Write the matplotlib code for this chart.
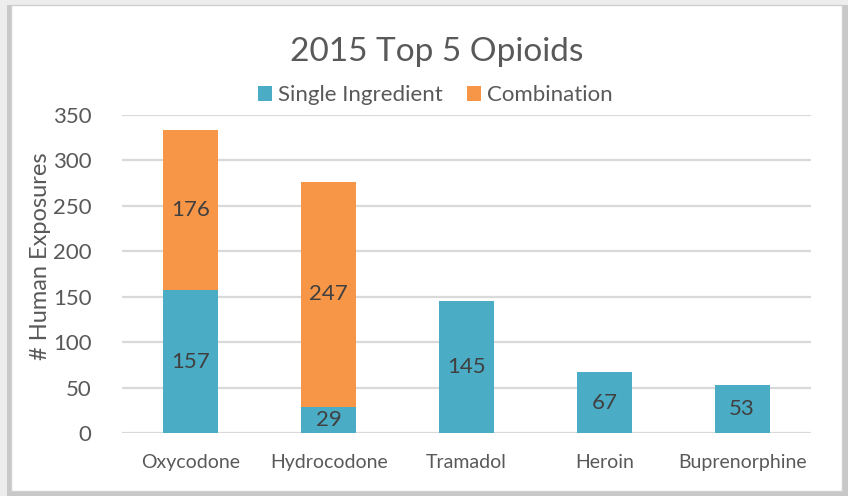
import matplotlib
matplotlib.use("Agg")
import matplotlib.pyplot as plt
from matplotlib.patches import Rectangle

categories = ["Oxycodone", "Hydrocodone", "Tramadol", "Heroin", "Buprenorphine"]
single = [157, 29, 145, 67, 53]
combination = [176, 247, 0, 0, 0]
series_names = ["Single Ingredient", "Combination"]
yticks = [0, 50, 100, 150, 200, 250, 300, 350]
title = "2015 Top 5 Opioids"
ylabel = "# Human Exposures"

FONT = ["Lato", "DejaVu Sans"]
plt.rcParams["font.family"] = FONT

TEAL = "#4BACC6"
ORANGE = "#F79646"
TXT = "#595959"
LBL = "#404040"

W, H = 848, 496
fig = plt.figure(figsize=(W / 100, H / 100), dpi=100)
fig.patch.set_facecolor("#EDEDED")

# card shadow and card
fig.patches.append(Rectangle((7 / W, 0 / H), (848 - 7) / W, (491 - 0) / H,
                             transform=fig.transFigure, facecolor="#C8C8C8",
                             edgecolor="none", zorder=0))
fig.patches.append(Rectangle((11 / W, 1 - 491 / H), (842 - 11) / W, (491 - 5) / H,
                             transform=fig.transFigure, facecolor="white",
                             edgecolor="#D0D0D0", linewidth=1, zorder=1))

ax = fig.add_axes([122 / W, 1 - 433 / H, (811 - 122) / W, (433 - 115) / H])
ax.set_facecolor("none")
ax.set_zorder(2)

x = list(range(len(categories)))
bw = 0.4
b1 = ax.bar(x, single, width=bw, color=TEAL, zorder=3, label=series_names[0])
b2 = ax.bar(x, combination, width=bw, bottom=single, color=ORANGE, zorder=3,
            label=series_names[1])

for i, (s, c) in enumerate(zip(single, combination)):
    ax.text(i, s / 2, str(s), ha="center", va="center", fontsize=16, color=LBL, zorder=4)
    if c:
        ax.text(i, s + c / 2, str(c), ha="center", va="center", fontsize=16,
                color=LBL, zorder=4)

ax.set_xlim(-0.5, len(categories) - 0.5)
ax.set_ylim(0, 350)
ax.set_yticks(yticks)
ax.set_yticklabels([str(t) for t in yticks])
ax.set_xticks(x)
ax.set_xticklabels(categories)
ax.tick_params(axis="both", length=0, colors=TXT)
ax.tick_params(axis="y", labelsize=16, pad=22)
ax.tick_params(axis="x", labelsize=14, pad=15)
for sp in ax.spines.values():
    sp.set_visible(False)
ax.grid(axis="y", color="#D9D9D9", linewidth=1.6, zorder=0)
ax.set_axisbelow(True)

fig.text(41 / W, 1 - 256 / H, ylabel, rotation=90, ha="center", va="center",
         fontsize=17, color=TXT, zorder=5)

fig.text(437 / W, 1 - 52 / H, title, ha="center", va="center", fontsize=24,
         color=TXT, zorder=5)

leg = fig.legend(handles=[b1, b2], labels=series_names, loc="center",
                 bbox_to_anchor=(435 / W, 1 - 95 / H), ncol=2, frameon=False,
                 fontsize=16, handlelength=0.65, handleheight=0.65,
                 handletextpad=0.25, columnspacing=1.1, labelcolor=TXT,
                 borderpad=0, borderaxespad=0)
leg.set_zorder(5)

fig.savefig("out.png", dpi=100, facecolor=fig.get_facecolor())
